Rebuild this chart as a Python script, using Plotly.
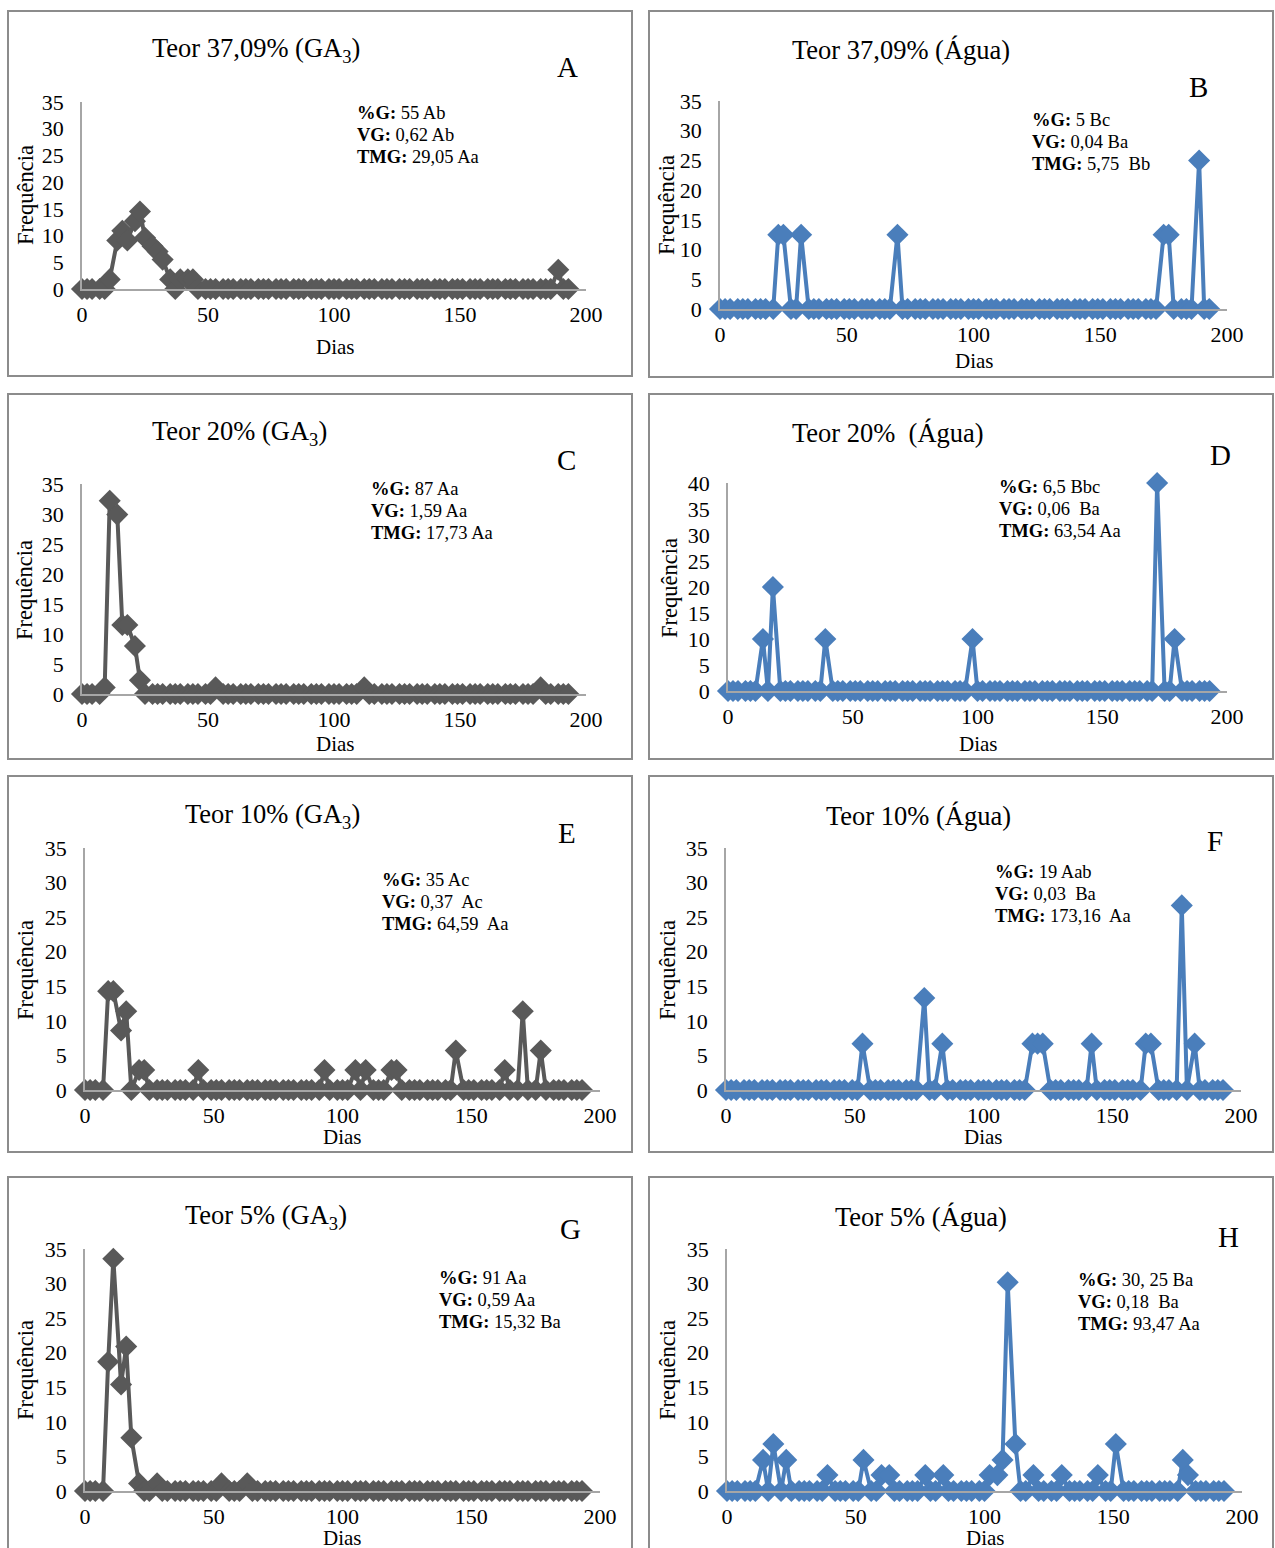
import plotly.graph_objects as go

# ---------------- DATA ----------------
dias = [0, 2, 4, 7, 9, 11, 14, 16, 18, 21, 23, 25,
        28, 30, 32, 35, 37, 39, 42, 44, 46, 49, 51, 53,
        56, 58, 60, 63, 65, 67, 70, 72, 74, 77, 79, 81,
        84, 86, 88, 91, 93, 95, 98, 100, 102, 105, 107, 109,
        112, 114, 116, 119, 121, 123, 126, 128, 130, 133, 135, 137,
        140, 142, 144, 147, 149, 151, 154, 156, 158, 161, 163, 165,
        168, 170, 172, 175, 177, 179, 182, 184, 186, 189, 191, 193]

freq_A = [0, 0, 0, 0, 0, 1.8, 9.1, 10.9, 9.1, 12.7, 14.5, 9.6,
          8.0, 7.0, 5.5, 1.8, 0, 1.8, 1.8, 1.8, 0, 0, 0, 0,
          0, 0, 0, 0, 0, 0, 0, 0, 0, 0, 0, 0,
          0, 0, 0, 0, 0, 0, 0, 0, 0, 0, 0, 0,
          0, 0, 0, 0, 0, 0, 0, 0, 0, 0, 0, 0,
          0, 0, 0, 0, 0, 0, 0, 0, 0, 0, 0, 0,
          0, 0, 0, 0, 0, 0, 0, 0, 0, 3.6, 0, 0]

freq_B = [0, 0, 0, 0, 0, 0, 0, 0, 0, 0, 12.5, 12.5,
          0, 0, 12.5, 0, 0, 0, 0, 0, 0, 0, 0, 0,
          0, 0, 0, 0, 0, 0, 12.5, 0, 0, 0, 0, 0,
          0, 0, 0, 0, 0, 0, 0, 0, 0, 0, 0, 0,
          0, 0, 0, 0, 0, 0, 0, 0, 0, 0, 0, 0,
          0, 0, 0, 0, 0, 0, 0, 0, 0, 0, 0, 0,
          0, 0, 0, 12.5, 12.5, 0, 0, 0, 0, 25, 0, 0]

freq_C = [0, 0, 0, 0, 1.1, 32.2, 29.9, 11.5, 11.5, 8.0, 2.3, 0,
          0, 0, 0, 0, 0, 0, 0, 0, 0, 0, 0, 1.1,
          0, 0, 0, 0, 0, 0, 0, 0, 0, 0, 0, 0,
          0, 0, 0, 0, 0, 0, 0, 0, 0, 0, 0, 0,
          1.1, 0, 0, 0, 0, 0, 0, 0, 0, 0, 0, 0,
          0, 0, 0, 0, 0, 0, 0, 0, 0, 0, 0, 0,
          0, 0, 0, 0, 0, 0, 1.1, 0, 0, 0, 0, 0]

freq_D = [0, 0, 0, 0, 0, 0, 10, 0, 20, 0, 0, 0,
          0, 0, 0, 0, 0, 10, 0, 0, 0, 0, 0, 0,
          0, 0, 0, 0, 0, 0, 0, 0, 0, 0, 0, 0,
          0, 0, 0, 0, 0, 0, 10, 0, 0, 0, 0, 0,
          0, 0, 0, 0, 0, 0, 0, 0, 0, 0, 0, 0,
          0, 0, 0, 0, 0, 0, 0, 0, 0, 0, 0, 0,
          0, 0, 40, 0, 0, 10, 0, 0, 0, 0, 0, 0]

freq_E = [0, 0, 0, 0, 14.3, 14.3, 8.6, 11.4, 0, 2.9, 2.9, 0,
          0, 0, 0, 0, 0, 0, 0, 2.9, 0, 0, 0, 0,
          0, 0, 0, 0, 0, 0, 0, 0, 0, 0, 0, 0,
          0, 0, 0, 0, 2.9, 0, 0, 0, 0, 2.9, 0, 2.9,
          0, 0, 0, 2.9, 2.9, 0, 0, 0, 0, 0, 0, 0,
          0, 0, 5.7, 0, 0, 0, 0, 0, 0, 0, 2.9, 0,
          0, 11.4, 0, 0, 5.7, 0, 0, 0, 0, 0, 0, 0]

freq_F = [0, 0, 0, 0, 0, 0, 0, 0, 0, 0, 0, 0,
          0, 0, 0, 0, 0, 0, 0, 0, 0, 0, 0, 6.7,
          0, 0, 0, 0, 0, 0, 0, 0, 0, 13.3, 0, 0,
          6.7, 0, 0, 0, 0, 0, 0, 0, 0, 0, 0, 0,
          0, 0, 0, 6.7, 6.7, 6.7, 0, 0, 0, 0, 0, 0,
          0, 6.7, 0, 0, 0, 0, 0, 0, 0, 0, 6.7, 6.7,
          0, 0, 0, 0, 26.7, 0, 6.7, 0, 0, 0, 0, 0]

freq_G = [0, 0, 0, 0, 18.7, 33.6, 15.4, 20.9, 7.7, 1.1, 0, 0,
          1.1, 0, 0, 0, 0, 0, 0, 0, 0, 0, 0, 1.1,
          0, 0, 0, 1.1, 0, 0, 0, 0, 0, 0, 0, 0,
          0, 0, 0, 0, 0, 0, 0, 0, 0, 0, 0, 0,
          0, 0, 0, 0, 0, 0, 0, 0, 0, 0, 0, 0,
          0, 0, 0, 0, 0, 0, 0, 0, 0, 0, 0, 0,
          0, 0, 0, 0, 0, 0, 0, 0, 0, 0, 0, 0]

freq_H = [0, 0, 0, 0, 0, 0, 4.5, 0, 6.8, 0, 4.5, 0,
          0, 0, 0, 0, 0, 2.3, 0, 0, 0, 0, 0, 4.5,
          0, 0, 2.3, 2.3, 0, 0, 0, 0, 0, 2.3, 0, 0,
          2.3, 0, 0, 0, 0, 0, 0, 0, 2.3, 2.3, 4.5, 30.2,
          6.8, 0, 0, 2.3, 0, 0, 0, 0, 2.3, 0, 0, 0,
          0, 0, 2.3, 0, 0, 6.8, 0, 0, 0, 0, 0, 0,
          0, 0, 0, 0, 4.5, 2.3, 0, 0, 0, 0, 0, 0]

titles = ["Teor 37,09% (GA<sub>3</sub>)", "Teor 37,09% (Água)",
          "Teor 20% (GA<sub>3</sub>)", "Teor 20%\u00a0 (Água)",
          "Teor 10% (GA<sub>3</sub>)", "Teor 10% (Água)",
          "Teor 5% (GA<sub>3</sub>)", "Teor 5% (Água)"]
letters = ["A", "B", "C", "D", "E", "F", "G", "H"]
stats = [
    ["%G:", " 55 Ab"], ["VG:", " 0,62 Ab"], ["TMG:", " 29,05 Aa"],
    ["%G:", " 5 Bc"], ["VG:", " 0,04 Ba"], ["TMG:", " 5,75\u00a0 Bb"],
    ["%G:", " 87 Aa"], ["VG:", " 1,59 Aa"], ["TMG:", " 17,73 Aa"],
    ["%G:", " 6,5 Bbc"], ["VG:", " 0,06\u00a0 Ba"], ["TMG:", " 63,54 Aa"],
    ["%G:", " 35 Ac"], ["VG:", " 0,37\u00a0 Ac"], ["TMG:", " 64,59\u00a0 Aa"],
    ["%G:", " 19 Aab"], ["VG:", " 0,03\u00a0 Ba"], ["TMG:", " 173,16\u00a0 Aa"],
    ["%G:", " 91 Aa"], ["VG:", " 0,59 Aa"], ["TMG:", " 15,32 Ba"],
    ["%G:", " 30, 25 Ba"], ["VG:", " 0,18\u00a0 Ba"], ["TMG:", " 93,47 Aa"],
]
series = [freq_A, freq_B, freq_C, freq_D, freq_E, freq_F, freq_G, freq_H]
y_max = [35, 35, 35, 40, 35, 35, 35, 35]
x_ticks = [0, 50, 100, 150, 200]
y_label = "Frequência"
x_label = "Dias"

# ---------------- LAYOUT (pixels) ----------------
W, H = 1275, 1548
GRAY = "#595959"
BLUE = "#4a7ebb"
colors = [GRAY, BLUE] * 4
# box, x0, x200, y0, ytop, title_left, letter, stats, freq, dias
geo = [
    ((8, 11, 632, 376), 82, 586, 289, 102, (150, 50), (567, 67), (355, 113), (25, 195), (335, 347)),
    ((649, 11, 1273, 377), 720, 1227, 309, 101, (790, 50), (1198, 87), (1030, 120), (667, 205), (974, 361)),
    ((8, 394, 632, 759), 82, 586, 694, 484, (150, 433), (566, 460), (369, 489), (25, 590), (335, 744)),
    ((649, 394, 1273, 759), 728, 1227, 691, 483, (790, 433), (1220, 455), (997, 487), (669, 588), (978, 744)),
    ((8, 776, 632, 1152), 85, 600, 1090, 848, (183, 816), (567, 833), (380, 880), (25, 970), (342, 1137)),
    ((649, 776, 1273, 1152), 726, 1241, 1090, 848, (824, 816), (1215, 841), (993, 872), (667, 970), (983, 1137)),
    ((8, 1177, 632, 1570), 85, 600, 1491, 1249, (183, 1217), (570, 1229), (437, 1278), (25, 1370), (342, 1538)),
    ((649, 1177, 1273, 1570), 727, 1242, 1491, 1249, (833, 1217), (1228, 1237), (1076, 1280), (667, 1370), (985, 1538)),
]

FONT = "Liberation Serif"


def px(x):
    return x / W


def py(y):
    return 1 - y / H


fig = go.Figure()
shapes = []
annotations = []
layout_axes = {}

for i in range(8):
    box, x0, x1, y0, ytop, tpos, lpos, spos, fpos, dpos = geo[i]
    n = "" if i == 0 else str(i + 1)
    fig.add_trace(go.Scatter(
        x=dias, y=series[i], mode="lines+markers",
        line=dict(color=colors[i], width=4),
        marker=dict(symbol="diamond", size=17, color=colors[i]),
        cliponaxis=False, showlegend=False,
        xaxis="x" + n, yaxis="y" + n,
    ))
    layout_axes["xaxis" + n] = dict(
        domain=[px(x0), px(x1)], range=[0, 200], anchor="y" + n, automargin=False,
        tickvals=x_ticks, showline=True, linecolor="#a6a6a6", linewidth=1.5,
        showgrid=False, zeroline=False, ticks="outside", ticklen=5,
        tickcolor="rgba(0,0,0,0)", tickfont=dict(family=FONT, size=22, color="black"),
    )
    layout_axes["yaxis" + n] = dict(
        domain=[py(y0), py(ytop)], range=[0, y_max[i]], anchor="x" + n, automargin=False,
        dtick=5, showline=True, linecolor="#a6a6a6", linewidth=1.5,
        showgrid=False, zeroline=False, ticks="outside", ticklen=12,
        tickcolor="rgba(0,0,0,0)", tickfont=dict(family=FONT, size=22, color="black"),
    )
    shapes.append(dict(type="rect", xref="paper", yref="paper",
                       x0=px(box[0]), x1=px(box[2]), y0=py(box[3]), y1=py(box[1]),
                       line=dict(color="#8c8c8c", width=2), fillcolor="rgba(0,0,0,0)"))
    annotations.append(dict(text=titles[i], x=px(tpos[0]), y=py(tpos[1]), xref="paper", yref="paper",
                            xanchor="left", yanchor="middle", showarrow=False,
                            font=dict(family=FONT, size=26.5, color="black")))
    annotations.append(dict(text=letters[i], x=px(lpos[0]), y=py(lpos[1]), xref="paper", yref="paper",
                            xanchor="center", yanchor="middle", showarrow=False,
                            font=dict(family=FONT, size=29, color="black")))
    for j in range(3):
        lab, val = stats[i * 3 + j]
        annotations.append(dict(text="<b>" + lab + "</b>" + val,
                                x=px(spos[0]), y=py(spos[1] + 22 * j), xref="paper", yref="paper",
                                xanchor="left", yanchor="middle", showarrow=False,
                                font=dict(family=FONT, size=18.5, color="black")))
    annotations.append(dict(text=y_label, x=px(fpos[0]), y=py(fpos[1]), xref="paper", yref="paper",
                            xanchor="center", yanchor="middle", textangle=-90, showarrow=False,
                            font=dict(family=FONT, size=22.5, color="black")))
    annotations.append(dict(text=x_label, x=px(dpos[0]), y=py(dpos[1]), xref="paper", yref="paper",
                            xanchor="center", yanchor="middle", showarrow=False,
                            font=dict(family=FONT, size=21, color="black")))

fig.update_layout(
    width=W, height=H, margin=dict(l=0, r=0, t=0, b=0, pad=0), autosize=False,
    paper_bgcolor="white", plot_bgcolor="white",
    shapes=shapes, annotations=annotations, **layout_axes,
)

fig.write_html("out.html", config={"displayModeBar": False},
               post_script="document.body.style.margin='0';")
